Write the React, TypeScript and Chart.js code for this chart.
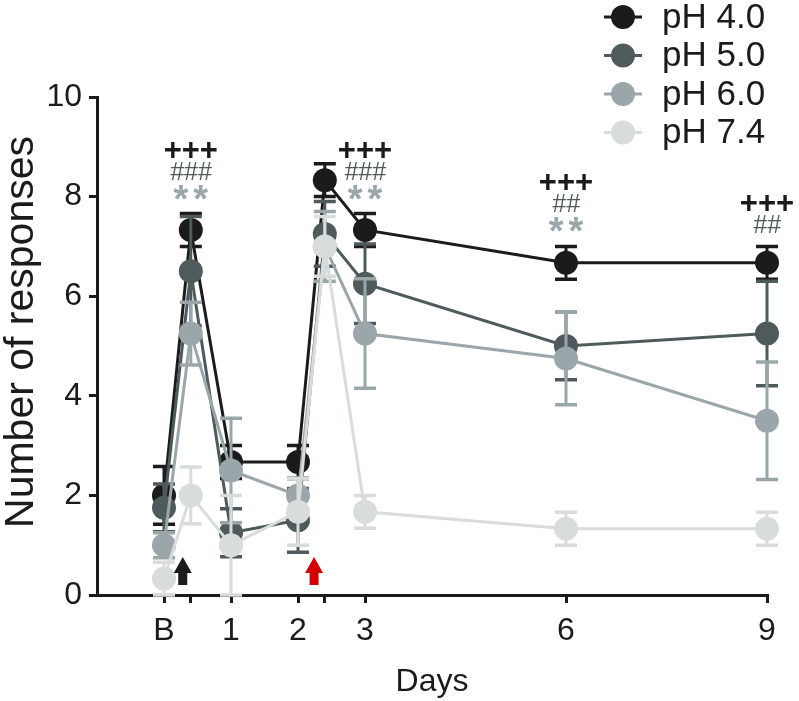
import React, { useEffect, useRef } from 'react';
import { Chart, registerables } from 'chart.js';

Chart.register(...registerables);

// ---- data ----
const days = [0, 0.4, 1, 2, 2.4, 3, 6, 9];
const tickDays = [0, 0.4, 1, 2, 2.4, 3, 6, 9];
const tickLabels = ['B', '', '1', '2', '', '3', '6', '9'];
const seriesNames = ['pH 4.0', 'pH 5.0', 'pH 6.0', 'pH 7.4'];

const ph40 = [2.0, 7.33, 2.67, 2.67, 8.33, 7.33, 6.67, 6.67];
const ph40Err = [0.58, 0.33, 0.33, 0.33, 0.33, 0.33, 0.33, 0.33];
const ph50 = [1.75, 6.5, 1.25, 1.5, 7.25, 6.25, 5.0, 5.25];
const ph50Err = [0.48, 1.1, 0.48, 0.64, 0.65, 0.8, 0.68, 1.05];
const ph60 = [1.0, 5.25, 2.5, 2.0, 7.0, 5.25, 4.75, 3.5];
const ph60Err = [0.25, 0.63, 1.05, 0.35, 0.7, 1.1, 0.93, 1.18];
const ph74 = [0.33, 2.0, 1.0, 1.67, 7.0, 1.67, 1.33, 1.33];
const ph74Err = [0.33, 0.57, 1.0, 0.67, 0.6, 0.33, 0.33, 0.33];

const sigDays = [0.4, 3, 6, 9];
const sigPlus = ['+++', '+++', '+++', '+++'];
const sigHash = ['###', '###', '##', '##'];
const sigStar = ['**', '**', '**', ''];

const arrowDays = [0.28, 2.24];

const yTitle = 'Number of responses';
const xTitle = 'Days';

// ---- styles ----
const FONT = '"Liberation Sans", Arial, Helvetica, sans-serif';
const COLORS = ['#1b1b1b', '#4f5a5d', '#9ba6ab', '#d8dcdb'];
const ARROW_COLORS = ['#1b1b1b', '#d40000'];
const AXIS = '#1b1b1b';

const seriesValues = [ph40, ph50, ph60, ph74];
const seriesErrors = [ph40Err, ph50Err, ph60Err, ph74Err];

const errorBarPlugin = {
  id: 'errorBars',
  beforeDatasetDraw(chart: any, args: any) {
    const ds = chart.data.datasets[args.index];
    const errs = ds.errors;
    if (!errs) return;
    const ctx = chart.ctx;
    const xs = chart.scales.x;
    const ys = chart.scales.y;
    ctx.save();
    ctx.strokeStyle = ds.borderColor;
    ds.data.forEach((p: any, i: number) => {
      const x = xs.getPixelForValue(p.x);
      const yt = ys.getPixelForValue(p.y + errs[i]);
      const yb = ys.getPixelForValue(Math.max(0, p.y - errs[i]));
      ctx.lineWidth = 3;
      ctx.beginPath();
      ctx.moveTo(x, yt);
      ctx.lineTo(x, yb);
      ctx.stroke();
      ctx.lineWidth = 3.5;
      ctx.beginPath();
      ctx.moveTo(x - 11, yt);
      ctx.lineTo(x + 11, yt);
      ctx.moveTo(x - 11, yb);
      ctx.lineTo(x + 11, yb);
      ctx.stroke();
    });
    ctx.restore();
  },
};

const annotationPlugin = {
  id: 'annotations',
  afterDatasetsDraw(chart: any) {
    const ctx = chart.ctx;
    const xs = chart.scales.x;
    const ys = chart.scales.y;
    ctx.save();
    ctx.textAlign = 'center';
    sigDays.forEach((d, k) => {
      const idx = days.indexOf(d);
      const top = ys.getPixelForValue(ph40[idx] + ph40Err[idx]);
      const x = xs.getPixelForValue(d);
      const rows: { t: string; c: string; f: string; dy: number }[] = [];
      if (sigStar[k]) rows.push({ t: sigStar[k], c: COLORS[2], f: `bold 38px ${FONT}`, dy: 20 });
      if (sigHash[k]) rows.push({ t: sigHash[k], c: COLORS[1], f: `italic 25px ${FONT}`, dy: 9 });
      if (sigPlus[k]) rows.push({ t: sigPlus[k], c: COLORS[0], f: `bold 31px ${FONT}`, dy: 10 });
      rows.forEach((r, j) => {
        const cy = top - 22 - 21 * j;
        ctx.font = r.f;
        ctx.fillStyle = r.c;
        ctx.textBaseline = 'alphabetic';
        const star = r.t.startsWith('*');
        (ctx as any).letterSpacing = star ? '5px' : '0px';
        ctx.fillText(r.t, x + (star ? 2.5 : 0), cy + r.dy);
      });
    });
    (ctx as any).letterSpacing = '0px';
    arrowDays.forEach((d, k) => {
      const x = xs.getPixelForValue(d);
      const base = ys.getPixelForValue(0) - 10;
      ctx.fillStyle = ARROW_COLORS[k];
      ctx.beginPath();
      ctx.moveTo(x, base - 28);
      ctx.lineTo(x + 9, base - 12);
      ctx.lineTo(x + 4.5, base - 12);
      ctx.lineTo(x + 4.5, base);
      ctx.lineTo(x - 4.5, base);
      ctx.lineTo(x - 4.5, base - 12);
      ctx.lineTo(x - 9, base - 12);
      ctx.closePath();
      ctx.fill();
    });
    ctx.restore();
  },
};

const legendPlugin = {
  id: 'customLegend',
  afterDraw(chart: any) {
    const ctx = chart.ctx;
    ctx.save();
    seriesNames.forEach((name, i) => {
      const cy = 17 + 38.5 * i;
      const cx = 623;
      ctx.strokeStyle = COLORS[i];
      ctx.lineWidth = 3;
      ctx.beginPath();
      ctx.moveTo(cx - 19, cy);
      ctx.lineTo(cx + 19, cy);
      ctx.stroke();
      ctx.fillStyle = COLORS[i];
      ctx.beginPath();
      ctx.arc(cx, cy, 12, 0, Math.PI * 2);
      ctx.fill();
      ctx.fillStyle = AXIS;
      ctx.font = `35px ${FONT}`;
      ctx.textAlign = 'left';
      ctx.textBaseline = 'middle';
      ctx.fillText(name, 662, cy + 1);
    });
    // y axis title
    ctx.save();
    ctx.translate(22, 332);
    ctx.rotate(-Math.PI / 2);
    ctx.fillStyle = AXIS;
    ctx.font = `41px ${FONT}`;
    ctx.textAlign = 'center';
    ctx.textBaseline = 'middle';
    ctx.fillText(yTitle, 0, 0);
    ctx.restore();
    ctx.restore();
  },
};

export default function App() {
  const ref = useRef<HTMLCanvasElement | null>(null);
  useEffect(() => {
    if (!ref.current) return;
    const datasets = seriesNames.map((name, i) => ({
      label: name,
      data: days.map((d, j) => ({ x: d, y: seriesValues[i][j] })),
      errors: seriesErrors[i],
      borderColor: COLORS[i],
      backgroundColor: COLORS[i],
      pointBackgroundColor: COLORS[i],
      pointBorderColor: COLORS[i],
      pointBorderWidth: 0,
      pointRadius: 12,
      borderWidth: 3,
      tension: 0,
      clip: false,
      order: 3 - i,
    }));
    const chart = new Chart(ref.current, {
      type: 'line',
      data: { datasets } as any,
      options: {
        animation: false,
        responsive: false,
        devicePixelRatio: 1,
        layout: { padding: { top: 97, right: 32, left: 0, bottom: 0 } },
        plugins: { legend: { display: false }, tooltip: { enabled: false } },
        scales: {
          x: {
            type: 'linear',
            min: -1,
            max: 9,
            afterFit: (s: any) => {
              s.height = 106;
            },
            afterBuildTicks: (s: any) => {
              s.ticks = tickDays.map((v) => ({ value: v }));
            },
            border: { display: true, color: AXIS, width: 3 },
            grid: {
              drawOnChartArea: false,
              drawTicks: true,
              tickLength: 8,
              lineWidth: 3,
              color: AXIS,
            },
            ticks: {
              autoSkip: false,
              maxRotation: 0,
              padding: 9,
              color: AXIS,
              font: { family: FONT, size: 32 },
              callback: (v: any) => {
                const i = tickDays.indexOf(Number(v));
                return i >= 0 ? tickLabels[i] : '';
              },
            },
            title: {
              display: true,
              text: xTitle,
              color: AXIS,
              font: { family: FONT, size: 32 },
              padding: { top: 0, bottom: 0 },
            },
          },
          y: {
            type: 'linear',
            min: 0,
            max: 10,
            afterFit: (s: any) => {
              s.width = 97;
            },
            border: { display: true, color: AXIS, width: 3 },
            grid: {
              drawOnChartArea: false,
              drawTicks: true,
              tickLength: 8,
              lineWidth: 3,
              color: AXIS,
            },
            ticks: {
              stepSize: 2,
              padding: 7,
              color: AXIS,
              font: { family: FONT, size: 32 },
            },
            title: { display: false },
          },
        },
      },
      plugins: [errorBarPlugin, annotationPlugin, legendPlugin],
    } as any);
    return () => chart.destroy();
  }, []);
  return (
    <div style={{ position: 'fixed', left: 0, top: 0, width: 799, height: 701, background: '#fff' }}>
      <canvas ref={ref} width={799} height={701} style={{ display: 'block' }} />
    </div>
  );
}
